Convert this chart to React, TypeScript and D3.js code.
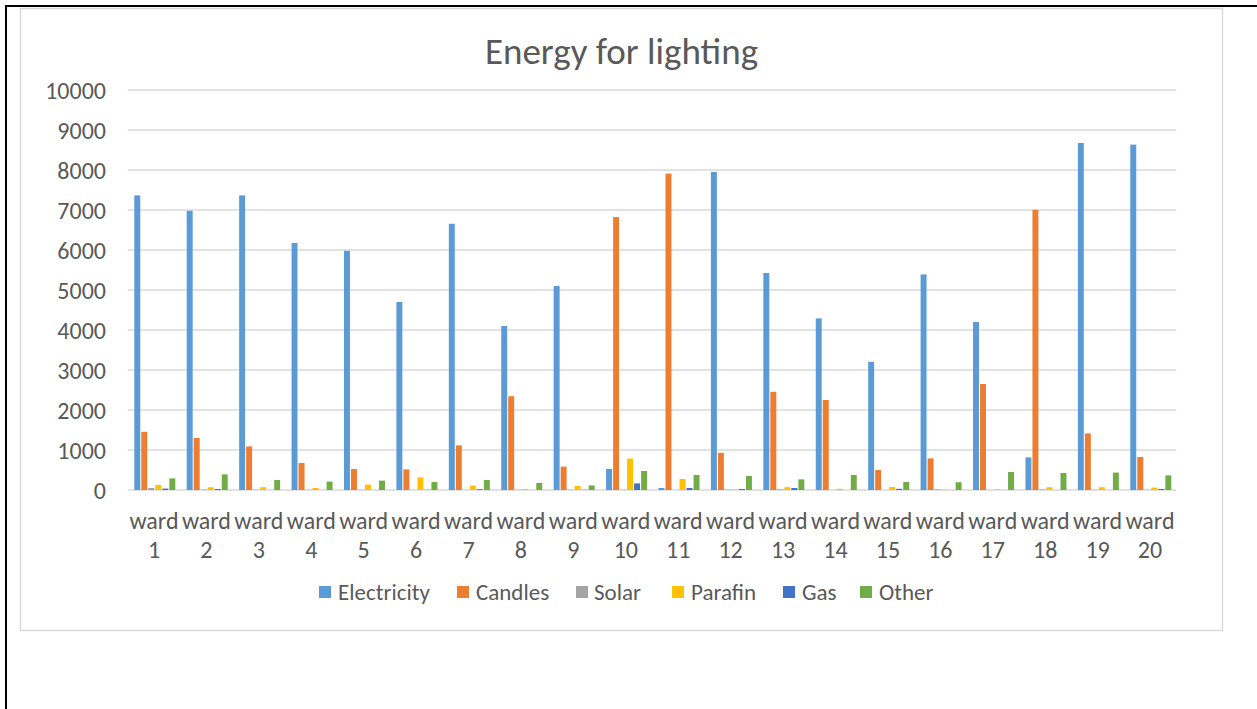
import React from "react";
import * as d3 from "d3";

// Wards and lighting energy sources
const wards = Array.from({ length: 20 }, (_, i) => String(i + 1));
const seriesNames = ["Electricity", "Candles", "Solar", "Parafin", "Gas", "Other"];
const seriesColors = ["#5B9BD5", "#ED7D31", "#A5A5A5", "#FFC000", "#4472C4", "#70AD47"];

const electricity = [7365, 6980, 7365, 6175, 5980, 4700, 6655, 4100, 5100, 525, 50, 7950, 5425, 4290, 3205, 5390, 4200, 815, 8675, 8635];
const candles = [1455, 1300, 1090, 675, 525, 515, 1115, 2345, 585, 6825, 7910, 930, 2455, 2250, 500, 790, 2650, 7005, 1415, 825];
const solar = [50, 10, 5, 5, 5, 0, 0, 5, 5, 5, 0, 10, 20, 0, 0, 15, 0, 15, 5, 5];
const parafin = [125, 70, 70, 50, 135, 315, 110, 25, 100, 785, 275, 10, 70, 30, 75, 10, 15, 70, 70, 60];
const gas = [35, 25, 0, 0, 0, 5, 20, 0, 5, 165, 50, 25, 50, 0, 30, 0, 0, 0, 0, 25];
const other = [290, 390, 250, 210, 235, 200, 250, 175, 115, 475, 375, 350, 265, 375, 200, 195, 450, 425, 435, 365];

const seriesValues = [electricity, candles, solar, parafin, gas, other];
const yTicks = d3.range(0, 10001, 1000);

const W = 1257;
const H = 709;
const FONT = "Carlito, Calibri, Lato, sans-serif";
const TEXT = "#595959";

export default function App() {
  const x = d3.scaleBand<string>().domain(wards).range([127.8, 1176.2]).padding(0);
  const inner = d3
    .scaleBand<string>()
    .domain(seriesNames)
    .range([6.5, 47.5])
    .paddingInner(0.15)
    .paddingOuter(0);
  const y = d3.scaleLinear().domain([0, 10000]).range([490, 90]);

  const legendItems = [
    { sq: 319, tx: 338 },
    { sq: 457, tx: 476 },
    { sq: 576, tx: 594 },
    { sq: 672, tx: 691 },
    { sq: 783, tx: 802 },
    { sq: 860, tx: 879 },
  ];

  return (
    <div style={{ position: "absolute", left: 0, top: 0 }}>
      <svg width={W} height={H} style={{ display: "block", background: "#fff" }}>
        {/* page frame lines */}
        <line x1={6} y1={6} x2={W} y2={6} stroke="#000" strokeWidth={2} />
        <line x1={6} y1={5} x2={6} y2={H} stroke="#000" strokeWidth={2} />
        {/* chart area border */}
        <rect x={20.5} y={8.5} width={1202} height={622} fill="#fff" stroke="#d9d9d9" strokeWidth={1.5} />

        <text
          x={621.5}
          y={64}
          textAnchor="middle"
          fontFamily={FONT}
          fontSize={37}
          fill={TEXT}
        >
          Energy for lighting
        </text>

        {/* gridlines and y tick labels */}
        {yTicks.map((t) => (
          <g key={t}>
            <line x1={127.8} x2={1176.2} y1={y(t)} y2={y(t)} stroke="#d9d9d9" strokeWidth={1.3} />
            <text
              x={106}
              y={y(t)}
              dy="0.36em"
              textAnchor="end"
              fontFamily={FONT}
              fontSize={24}
              fill={TEXT}
            >
              {t}
            </text>
          </g>
        ))}

        {/* bars */}
        {wards.map((w, wi) => (
          <g key={w} transform={`translate(${x(w)},0)`}>
            {seriesNames.map((s, si) => {
              const v = seriesValues[si][wi];
              return (
                <rect
                  key={s}
                  x={inner(s)}
                  y={y(v)}
                  width={inner.bandwidth()}
                  height={y(0) - y(v)}
                  fill={seriesColors[si]}
                />
              );
            })}
          </g>
        ))}

        {/* x category labels */}
        {wards.map((w) => {
          const cx = (x(w) as number) + x.bandwidth() / 2;
          return (
            <text key={w} textAnchor="middle" fontFamily={FONT} fontSize={24} fill={TEXT}>
              <tspan x={cx} y={529}>ward</tspan>
              <tspan x={cx} y={558}>{w}</tspan>
            </text>
          );
        })}

        {/* legend */}
        {seriesNames.map((s, i) => (
          <g key={s}>
            <rect x={legendItems[i].sq} y={586} width={12} height={12} fill={seriesColors[i]} />
            <text
              x={legendItems[i].tx}
              y={592}
              dy="0.36em"
              fontFamily={FONT}
              fontSize={23}
              fill={TEXT}
            >
              {s}
            </text>
          </g>
        ))}
      </svg>
    </div>
  );
}
